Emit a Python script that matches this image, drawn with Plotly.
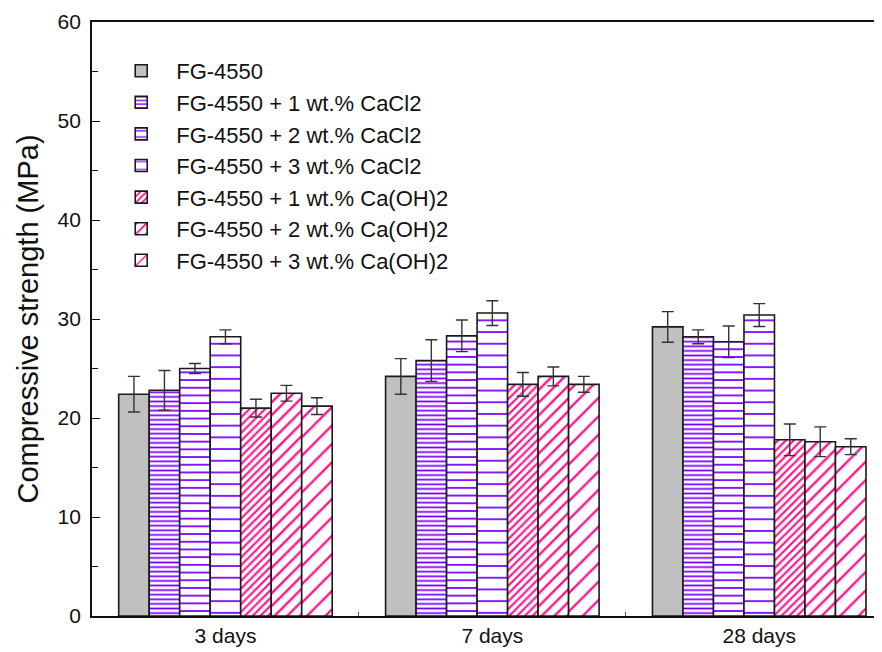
import plotly.graph_objects as go

categories = ["3 days", "7 days", "28 days"]
series_names = [
    "FG-4550",
    "FG-4550 + 1 wt.% CaCl2",
    "FG-4550 + 2 wt.% CaCl2",
    "FG-4550 + 3 wt.% CaCl2",
    "FG-4550 + 1 wt.% Ca(OH)2",
    "FG-4550 + 2 wt.% Ca(OH)2",
    "FG-4550 + 3 wt.% Ca(OH)2",
]
fg4550 = [22.4, 24.2, 29.2]
cacl2_1 = [22.8, 25.8, 28.2]
cacl2_2 = [25.0, 28.3, 27.7]
cacl2_3 = [28.2, 30.6, 30.4]
caoh2_1 = [21.0, 23.4, 17.8]
caoh2_2 = [22.5, 24.2, 17.6]
caoh2_3 = [21.2, 23.4, 17.1]
err_fg4550 = [1.8, 1.8, 1.55]
err_cacl2_1 = [2.0, 2.1, 0.7]
err_cacl2_2 = [0.5, 1.6, 1.6]
err_cacl2_3 = [0.7, 1.25, 1.15]
err_caoh2_1 = [0.9, 1.2, 1.6]
err_caoh2_2 = [0.8, 0.95, 1.5]
err_caoh2_3 = [0.85, 0.8, 0.8]

values = [fg4550, cacl2_1, cacl2_2, cacl2_3, caoh2_1, caoh2_2, caoh2_3]
errors = [err_fg4550, err_cacl2_1, err_cacl2_2, err_cacl2_3, err_caoh2_1, err_caoh2_2, err_caoh2_3]

PURPLE = "#7800FF"
PINK = "#FF1488"
styles = [
    dict(color="#C0C0C0", pattern=dict(shape="")),
    dict(color="white", pattern=dict(shape="-", fgcolor=PURPLE, bgcolor="white", fgopacity=1, size=4.6, solidity=0.38)),
    dict(color="white", pattern=dict(shape="-", fgcolor=PURPLE, bgcolor="white", fgopacity=1, size=7.7, solidity=0.23)),
    dict(color="white", pattern=dict(shape="-", fgcolor=PURPLE, bgcolor="white", fgopacity=1, size=11.7, solidity=0.15)),
    dict(color="white", pattern=dict(shape="/", fgcolor=PINK, bgcolor="white", fgopacity=1, size=5.5, solidity=0.4)),
    dict(color="white", pattern=dict(shape="/", fgcolor=PINK, bgcolor="white", fgopacity=1, size=9, solidity=0.26)),
    dict(color="white", pattern=dict(shape="/", fgcolor=PINK, bgcolor="white", fgopacity=1, size=13, solidity=0.18)),
]

FONT = "Liberation Sans, Arial, sans-serif"

fig = go.Figure()
for i, (name, vals, errs, st) in enumerate(zip(series_names, values, errors, styles)):
    fig.add_trace(go.Bar(
        x=categories, y=vals, name=name,
        marker=dict(color=st["color"], pattern=st["pattern"],
                    line=dict(color="#1a1a1a", width=1.6)),
        error_y=dict(type="data", array=errs, visible=True,
                     color="#333333", thickness=1.4, width=6),
    ))

fig.update_layout(
    width=874, height=644,
    margin=dict(l=84, r=0, t=14, b=36),
    paper_bgcolor="white", plot_bgcolor="white",
    barmode="group", bargap=0.2, bargroupgap=0,
    font=dict(family=FONT, color="#111111", size=21),
    showlegend=True,
    legend=dict(
        x=0.018, y=0.953, xanchor="left", yanchor="top",
        bgcolor="rgba(0,0,0,0)", borderwidth=0,
        font=dict(size=22, family=FONT, color="#111111"),
        traceorder="normal", itemwidth=60,
    ),
    xaxis=dict(
        range=[-0.5, 2.46], showline=True, linecolor="#111111", linewidth=1.8,
        mirror=True, ticks="inside", tickson="boundaries", ticklen=4,
        tickcolor="#555555", showgrid=False, zeroline=False,
        tickfont=dict(size=21, family=FONT),
    ),
    yaxis=dict(
        range=[0, 60], dtick=10, showline=True, linecolor="#111111", linewidth=1.8,
        ticks="inside", ticklen=8, tickwidth=1.2, tickcolor="#111111",
        minor=dict(dtick=5, ticks="inside", ticklen=6, tickwidth=1.2, tickcolor="#111111"),
        showgrid=False, zeroline=False, ticklabelstandoff=5,
        tickfont=dict(size=21, family=FONT),
        title=dict(text="Compressive strength (MPa)", font=dict(size=29, family=FONT), standoff=10),
    ),
)

fig.write_html("out.html")
